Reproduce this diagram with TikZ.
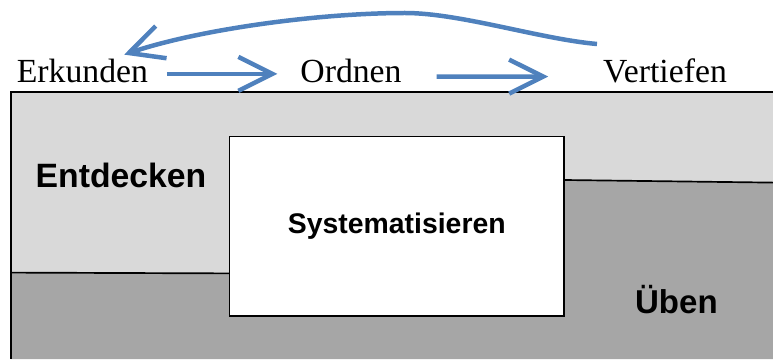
\documentclass[tikz,border=0pt]{standalone}
\usepackage{fontspec}
\setmainfont{Liberation Serif}
\setsansfont{Liberation Sans}
\usepackage{xcolor}
\usepackage{tikz}
\usetikzlibrary{arrows.meta}
\definecolor{arrowblue}{RGB}{79,129,189}
\definecolor{lightbg}{RGB}{217,217,217}
\definecolor{darkbg}{RGB}{166,166,166}

\begin{document}
\begin{tikzpicture}[
    phase/.style={font=\fontsize{24}{29}\selectfont, anchor=base},
    stage/.style={font=\sffamily\bfseries\fontsize{24}{29}\selectfont, anchor=base},
    flow/.style={-{Straight Barb[length=8.5mm,width=8.5mm]}, arrowblue, line width=3.2pt}]
    \useasboundingbox (0,0) rectangle (19.325,8.975);
    % background areas
    \fill[lightbg] (0.275,0) rectangle (19.325,6.675);
    \fill[darkbg] (0.275,0) -- (0.275,2.16) -- (5.74,2.14) -- (14.1,4.475) -- (19.325,4.41) -- (19.325,0) -- cycle;
    \draw[line width=1.2pt] (0.275,2.16) -- (5.74,2.14) (14.1,4.475) -- (19.325,4.41);
    \draw[line width=1.2pt] (0.275,0) -- (0.275,6.675) -- (19.325,6.675);
    \node[draw, fill=white, line width=1.2pt, minimum width=8.37cm, minimum height=4.48cm,
        font=\sffamily\bfseries\fontsize{20.2}{24}\selectfont] (sys) at (9.92,3.32) {Systematisieren};
    \node[stage] (entd) at (3.025,4.3) {Entdecken};
    \node[stage, font=\sffamily\bfseries\fontsize{23.5}{28}\selectfont] (ueben) at (16.91,1.15) {Üben};
    % phases on top
    \node[phase] (erk) at (2.06,6.9) {Erkunden};
    \node[phase] (ord) at (8.775,6.9) {Ordnen};
    \node[phase] (vert) at (16.625,6.9) {Vertiefen};
    \draw[flow, shorten <=3.5mm, shorten >=4.5mm] ([yshift=-0.6mm]erk.east) -- ([yshift=-0.6mm]ord.west);
    \draw[flow, shorten <=7.5mm, shorten >=12.5mm] ([yshift=-1.3mm]ord.east) -- ([yshift=-1.3mm]vert.west);
    \coordinate (back) at (14.925,7.875);
    \draw[flow] (back) .. controls (13.5,8.0) and (11.5,8.65) .. (10.125,8.65)
        .. controls (8,8.65) and (5,8.25) .. ([xshift=-7.2mm]erk.north east);
\end{tikzpicture}
\end{document}
